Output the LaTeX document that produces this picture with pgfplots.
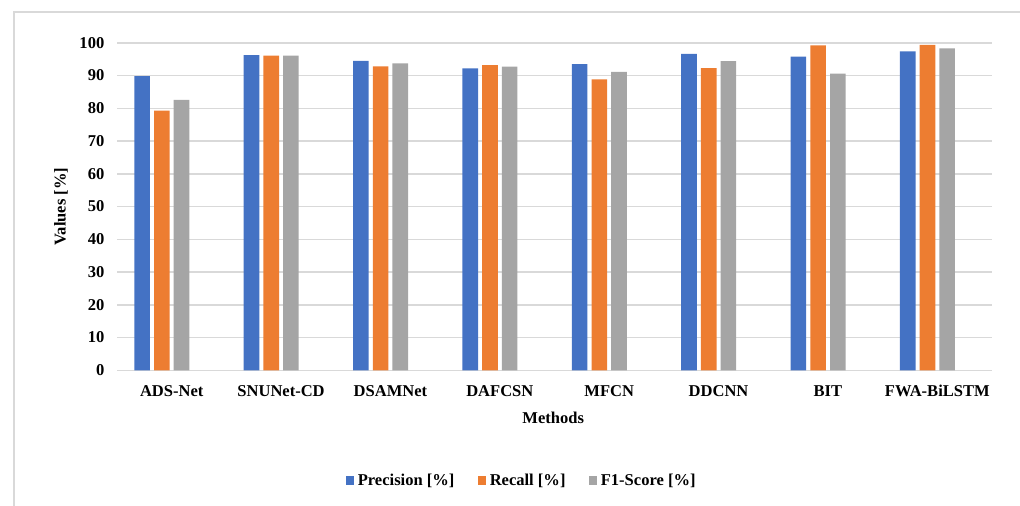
\documentclass[border=0pt]{standalone}
\usepackage{pgfplots}
\pgfplotsset{compat=1.18}
\usepackage{fontspec}
\setmainfont{Liberation Serif}
\definecolor{cBlue}{HTML}{4472C4}
\definecolor{cOrange}{HTML}{ED7D31}
\definecolor{cGray}{HTML}{A5A5A5}
\definecolor{cGrid}{HTML}{D9D9D9}
\begin{document}
\begin{tikzpicture}
\useasboundingbox (0,0) rectangle (765pt,379.5pt);
% outer chart frame (cropped at right and bottom)
\draw[cGrid, line width=1.1pt] (10.5pt,0pt) -- (10.5pt,370.5pt) -- (765pt,370.5pt);
\begin{axis}[
  at={(87.75pt,101.8pt)}, anchor=south west,
  width=656.25pt, height=245.6pt, scale only axis,
  font=\fontsize{12.4}{14}\selectfont\bfseries,
  /pgf/number format/assume math mode=true,
  ymin=0, ymax=100, ytick={0,10,...,100},
  xmin=-0.5, xmax=7.5, xtick={0,...,7},
  xticklabels={ADS-Net,SNUNet-CD,DSAMNet,DAFCSN,MFCN,DDCNN,BIT,FWA-BiLSTM},
  major tick length=0pt,
  ymajorgrids, major grid style={cGrid, line width=1.1pt},
  axis x line=bottom, axis y line=left,
  x axis line style={cGrid, line width=1.1pt, -},
  y axis line style={draw=none},
  ybar, bar width=11.7pt,
  every axis plot/.append style={draw=none},
  yticklabel style={font=\fontsize{12.4}{14}\selectfont\bfseries, xshift=-6pt},
  xticklabel style={font=\fontsize{12.4}{14}\selectfont\bfseries, yshift=-7.8pt},
  xlabel={Methods}, ylabel={Values [\%]},
  xlabel style={at={(axis description cs:0.4985,-0.1457)}, anchor=center},
  ylabel style={at={(axis description cs:-0.064,0.5)}, anchor=center},
  legend columns=3,
  legend image code/.code={\fill[#1] (0pt,-3.2pt) rectangle (6.4pt,3.2pt);},
  legend style={draw=none, fill=none, at={(axis description cs:0.4629,-0.336)}, anchor=center,
    font=\fontsize{12.4}{14}\selectfont\bfseries,
    /tikz/every odd column/.append style={column sep=0.6pt},
    /tikz/every even column/.append style={column sep=15.5pt}},
]
\addplot[fill=cBlue, bar shift=-22.16pt] coordinates {(0,89.8) (1,96.2) (2,94.5) (3,92.2) (4,93.5) (5,96.6) (6,95.8) (7,97.4)};
\addplot[fill=cOrange, bar shift=-7.39pt] coordinates {(0,79.3) (1,96.1) (2,92.8) (3,93.2) (4,88.8) (5,92.3) (6,99.2) (7,99.4)};
\addplot[fill=cGray, bar shift=7.39pt] coordinates {(0,82.6) (1,96.1) (2,93.7) (3,92.7) (4,91.1) (5,94.4) (6,90.6) (7,98.3)};
\legend{Precision [\%],Recall [\%],F1-Score [\%]}
\end{axis}
\end{tikzpicture}
\end{document}
